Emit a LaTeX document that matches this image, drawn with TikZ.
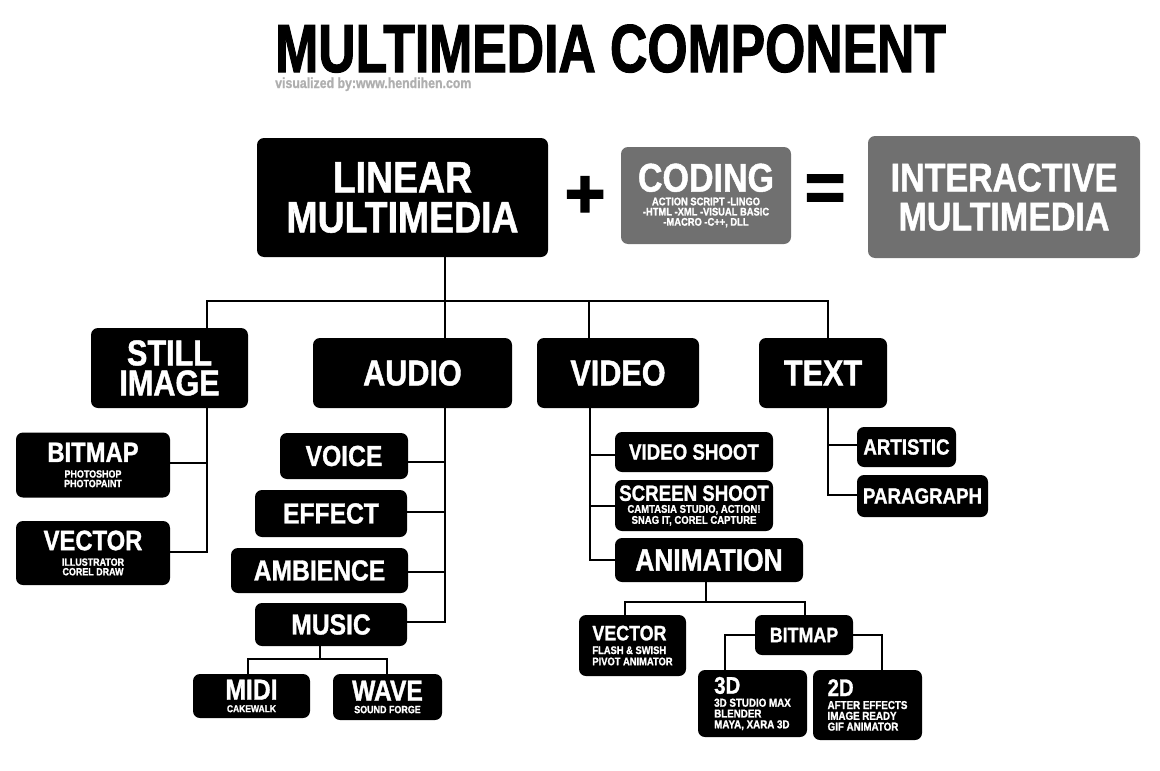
\documentclass[tikz,border=0pt]{standalone}
\usepackage{fontspec}
\newfontfamily\hfont[FakeStretch=0.85,FakeBold=1.2]{Liberation Sans Bold}
\newfontfamily\tfont[FakeStretch=0.76,FakeBold=1.5]{Liberation Sans Bold}
\newfontfamily\symfont[FakeBold=2]{Liberation Sans Bold}
\newcommand{\fsz}[2]{\fontsize{#1}{#2}\selectfont}
\usetikzlibrary{positioning}
\definecolor{boxgray}{RGB}{112,112,112}
\definecolor{markgray}{RGB}{175,175,175}
\tikzset{
  blk/.style={rectangle, rounded corners=7pt, fill=black, text=white, align=center, inner sep=0pt},
  gry/.style={blk, fill=boxgray},
  sz/.style 2 args={minimum width=#1pt, minimum height=#2pt},
  symb/.style={inner sep=0pt, font={\symfont\fsz{70}{70}}},
  link/.style={draw=black, line width=2.6pt},
}

\begin{document}
\begin{tikzpicture}[x=1pt,y=-1pt]
\useasboundingbox (0,0) rectangle (1160,771);
% title
\node[anchor=base west, inner sep=0pt, font={\tfont\fsz{68}{68}}] (title) at (275,72) {MULTIMEDIA COMPONENT};
\node[anchor=base west, inner sep=0pt, text=markgray, font={\hfont\fsz{14.5}{14.5}}] (credit) at (275,88) {visualized by:www.hendihen.com};
% top row
\node[blk, sz={291}{119}, font={\hfont\fsz{44}{40}}] (linear) at (402.5,197.5) {LINEAR\\MULTIMEDIA};
\node[symb] (plus) at (585,197) {+};
\node[gry, sz={170}{97}, font={\hfont\fsz{11}{10.2}}] (coding) at (706,195.5) {\fsz{40}{10.2}CODING\\[3.5pt]ACTION SCRIPT -LINGO\\-HTML -XML -VISUAL BASIC\\-MACRO -C++, DLL};
\node[symb] (equal) at (825,193) {=};
\node[gry, sz={272}{122}, font={\hfont\fsz{40}{39}}] (inter) at (1004,197) {INTERACTIVE\\MULTIMEDIA};
% second row
\node[blk, sz={157}{80}, font={\hfont\fsz{36}{30}}] (still) at (169.5,368) {STILL\\IMAGE};
\node[blk, sz={199}{70}, font={\hfont\fsz{36}{30}}] (audio) at (412.5,373) {AUDIO};
\node[blk, sz={162}{70}, font={\hfont\fsz{36}{30}}] (video) at (618,373) {VIDEO};
\node[blk, sz={128}{70}, font={\hfont\fsz{36}{30}}] (text) at (823,373) {TEXT};
% still image
\node[blk, sz={154}{65}, font={\hfont\fsz{10.5}{9.6}}] (bmpstill) at (93,465) {\fsz{28}{9.6}BITMAP\\[6pt]PHOTOSHOP\\PHOTOPAINT};
\node[blk, sz={154}{64}, font={\hfont\fsz{10.5}{9.6}}] (vecstill) at (93,553) {\fsz{28}{9.6}VECTOR\\[6pt]ILLUSTRATOR\\COREL DRAW};
% audio
\node[blk, sz={128}{46}, font={\hfont\fsz{29}{29}}] (voice) at (344,456) {VOICE};
\node[blk, sz={152}{47}, font={\hfont\fsz{29}{29}}] (effect) at (331,513.5) {EFFECT};
\node[blk, sz={177}{45}, font={\hfont\fsz{29}{29}}] (ambience) at (319.5,570.5) {AMBIENCE};
\node[blk, sz={152}{43}, font={\hfont\fsz{29}{29}}] (music) at (331,624.5) {MUSIC};
\node[blk, sz={117}{44}, font={\hfont\fsz{10}{9.5}}] (midi) at (251.5,696) {\fsz{29}{9.5}MIDI\\[3pt]CAKEWALK};
\node[blk, sz={109}{46}, font={\hfont\fsz{10.5}{9.5}}] (wave) at (387.5,697) {\fsz{29}{9.5}WAVE\\[3pt]SOUND FORGE};
% video
\node[blk, sz={158}{40}, font={\hfont\fsz{22}{22}}] (vshoot) at (694,452) {VIDEO SHOOT};
\node[blk, sz={158}{51}, font={\hfont\fsz{11.2}{11}}] (sshoot) at (694,505.5) {\fsz{22}{11}SCREEN SHOOT\\[1pt]CAMTASIA STUDIO, ACTION!\\SNAG IT, COREL CAPTURE};
\node[blk, sz={188}{44}, font={\hfont\fsz{31}{31}}] (anim) at (709,560) {ANIMATION};
\node[blk, sz={107}{61}, align=left, font={\hfont\fsz{11}{11.2}}] (vecanim) at (632.5,645.5) {\fsz{21}{11.2}VECTOR\\[2.5pt]FLASH \& SWISH\\PIVOT ANIMATOR};
\node[blk, sz={98}{40}, font={\hfont\fsz{21}{21}}] (bmpanim) at (804,635) {BITMAP};
\node[blk, sz={109}{67}, align=left, font={\hfont\fsz{11.5}{10.8}}] (anim3d) at (752.5,703.5) {\fsz{24}{10.8}3D\\[2.2pt]3D STUDIO MAX\\BLENDER\\MAYA, XARA 3D};
\node[blk, sz={109}{70}, align=left, font={\hfont\fsz{11.5}{10.8}}] (anim2d) at (867.5,705) {\fsz{24}{10.8}2D\\[2.2pt]AFTER EFFECTS\\IMAGE READY\\GIF ANIMATOR};
% text
\node[blk, sz={99}{40}, font={\hfont\fsz{22}{22}}] (artistic) at (906.5,447) {ARTISTIC};
\node[blk, sz={131}{42}, font={\hfont\fsz{22}{22}}] (paragraph) at (922.5,496) {PARAGRAPH};

% top bus
\coordinate (hub) at (445,301);
\coordinate (busL) at (207,301);
\coordinate (busR) at (828,301);
\coordinate (busV) at (589,301);
\draw[link] (linear.south -| hub) -- (audio.north -| hub);
\draw[link] (still.north -| busL) -- (busL) -- (busR) -- (text.north -| busR);
\draw[link] (busV) -- (video.north -| busV);
% still image branches
\coordinate (stA) at (207,463);
\coordinate (stB) at (207,552);
\draw[link] (still.south -| stB) -- (stB) -- (stB -| vecstill.east);
\draw[link] (stA) -- (stA -| bmpstill.east);
% audio branches
\coordinate (auA) at (445,462);
\coordinate (auB) at (445,512);
\coordinate (auC) at (445,572);
\coordinate (auD) at (445,622);
\draw[link] (audio.south -| auD) -- (auD) -- (auD -| music.east);
\draw[link] (auA) -- (auA -| voice.east);
\draw[link] (auB) -- (auB -| effect.east);
\draw[link] (auC) -- (auC -| ambience.east);
\coordinate (muJ) at (320,659);
\coordinate (muL) at (248,659);
\coordinate (muR) at (387,659);
\draw[link] (music.south -| muJ) -- (muJ);
\draw[link] (midi.north -| muL) -- (muL) -- (muR) -- (wave.north -| muR);
% video branches
\coordinate (viA) at (590,455);
\coordinate (viB) at (590,506);
\coordinate (viC) at (590,560);
\draw[link] (video.south -| viC) -- (viC) -- (viC -| anim.west);
\draw[link] (viA) -- (viA -| vshoot.west);
\draw[link] (viB) -- (viB -| sshoot.west);
\coordinate (anJ) at (706,602);
\coordinate (anL) at (625,602);
\coordinate (anR) at (805,602);
\draw[link] (anim.south -| anJ) -- (anJ);
\draw[link] (vecanim.north -| anL) -- (anL) -- (anR) -- (bmpanim.north -| anR);
\coordinate (b3) at (725,635);
\coordinate (b2) at (882,635);
\draw[link] (bmpanim.west) -- (b3) -- (anim3d.north -| b3);
\draw[link] (bmpanim.east) -- (b2) -- (anim2d.north -| b2);
% text branches
\coordinate (txA) at (828,445);
\coordinate (txB) at (828,495);
\draw[link] (text.south -| txB) -- (txB) -- (txB -| paragraph.west);
\draw[link] (txA) -- (txA -| artistic.west);
\end{tikzpicture}
\end{document}
